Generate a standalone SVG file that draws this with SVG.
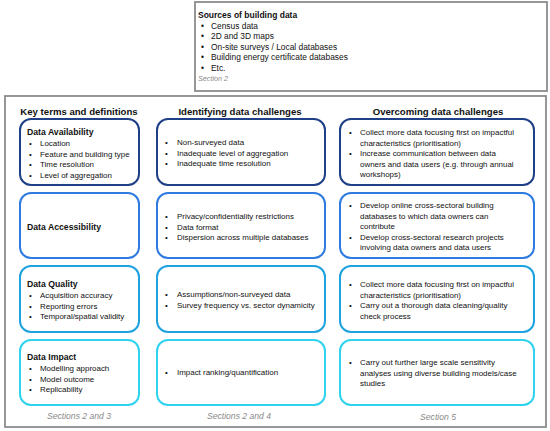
<svg xmlns="http://www.w3.org/2000/svg" width="550" height="431" viewBox="0 0 550 431">
<style>
.frame{fill:#fff;stroke:#8c8c8c;stroke-width:1.8}
.box{fill:#fff;stroke-width:2}
.r1{stroke:#1f3f86}
.r2{stroke:#2f7be0}
.r3{stroke:#1ea2e0}
.r4{stroke:#2fd3ee}
text{font-family:"Liberation Sans",Arial,sans-serif;fill:#111}
.h{font-size:9.6px;font-weight:bold;text-anchor:middle}
.t{font-size:8.7px;font-weight:bold}
.ts{font-size:8.5px;font-weight:bold}
.b{font-size:7.95px}
.bt{font-size:8.4px}
.s{font-size:7.2px;font-style:italic;fill:#8a8a8a}
.sc{font-size:8.6px;font-style:italic;fill:#8a8a8a;text-anchor:middle}
</style>
<rect width="550" height="431" fill="#fff"/>
<g id="sources">
<rect class="frame" x="195" y="2" width="352" height="89"/>
<text class="ts" x="198" y="18">Sources of building data</text>
<g class="bt">
<text x="201" y="28.5">•</text><text x="211" y="28.5">Census data</text>
<text x="201" y="39">•</text><text x="211" y="39">2D and 3D maps</text>
<text x="201" y="49.5">•</text><text x="211" y="49.5">On-site surveys / Local databases</text>
<text x="201" y="60">•</text><text x="211" y="60">Building energy certificate databases</text>
<text x="201" y="70.5">•</text><text x="211" y="70.5">Etc.</text>
</g>
<text class="s" x="198" y="81">Section 2</text>
</g>
<g id="main">
<rect class="frame" x="5" y="96" width="541" height="331"/>
<text class="h" x="79" y="115">Key terms and definitions</text>
<text class="h" x="240" y="115">Identifying data challenges</text>
<text class="h" x="438" y="115">Overcoming data challenges</text>
<text class="sc" x="79" y="419">Sections 2 and 3</text>
<text class="sc" x="239" y="419">Sections 2 and 4</text>
<text class="sc" x="438" y="420">Section 5</text>
</g>
<g id="connectors"></g>
<g id="availability-def">
<rect class="box r1" x="20" y="119" width="119" height="66" rx="11"/>
<text class="t" x="27" y="135">Data Availability</text>
<g class="b">
<text x="29" y="146">•</text><text x="40" y="146">Location</text>
<text x="29" y="156.5">•</text><text x="40" y="156.5">Feature and building type</text>
<text x="29" y="167">•</text><text x="40" y="167">Time resolution</text>
<text x="29" y="177.5">•</text><text x="40" y="177.5">Level of aggregation</text>
</g>
</g>
<g id="availability-challenges">
<rect class="box r1" x="157" y="119" width="168" height="66" rx="11"/>
<g class="b">
<text x="165" y="145">•</text><text x="177" y="145">Non-surveyed data</text>
<text x="165" y="155.5">•</text><text x="177" y="155.5">Inadequate level of aggregation</text>
<text x="165" y="166">•</text><text x="177" y="166">Inadequate time resolution</text>
</g>
</g>
<g id="availability-solutions">
<rect class="box r1" x="340" y="119" width="194" height="66" rx="11"/>
<g class="b">
<text x="349" y="135">•</text><text x="360" y="135">Collect more data focusing first on impactful</text>
<text x="360" y="145.5">characteristics (prioritisation)</text>
<text x="349" y="156">•</text><text x="360" y="156">Increase communication between data</text>
<text x="360" y="166.5">owners and data users (e.g. through annual</text>
<text x="360" y="177">workshops)</text>
</g>
</g>
<g id="accessibility-def">
<rect class="box r2" x="20" y="193" width="119" height="65" rx="11"/>
<text class="t" x="27" y="230">Data Accessibility</text>
</g>
<g id="accessibility-challenges">
<rect class="box r2" x="157" y="193" width="168" height="65" rx="11"/>
<g class="b">
<text x="165" y="219">•</text><text x="177" y="219">Privacy/confidentiality restrictions</text>
<text x="165" y="229.5">•</text><text x="177" y="229.5">Data format</text>
<text x="165" y="240">•</text><text x="177" y="240">Dispersion across multiple databases</text>
</g>
</g>
<g id="accessibility-solutions">
<rect class="box r2" x="340" y="193" width="194" height="65" rx="11"/>
<g class="b">
<text x="349" y="208">•</text><text x="360" y="208">Develop online cross-sectoral building</text>
<text x="360" y="218.5">databases to which data owners can</text>
<text x="360" y="229">contribute</text>
<text x="349" y="239.5">•</text><text x="360" y="239.5">Develop cross-sectoral research projects</text>
<text x="360" y="250">involving data owners and data users</text>
</g>
</g>
<g id="quality-def">
<rect class="box r3" x="20" y="266" width="119" height="66" rx="11"/>
<text class="t" x="27" y="287">Data Quality</text>
<g class="b">
<text x="29" y="298">•</text><text x="40" y="298">Acquisition accuracy</text>
<text x="29" y="308.5">•</text><text x="40" y="308.5">Reporting errors</text>
<text x="29" y="319">•</text><text x="40" y="319">Temporal/spatial validity</text>
</g>
</g>
<g id="quality-challenges">
<rect class="box r3" x="157" y="266" width="168" height="66" rx="11"/>
<g class="b">
<text x="165" y="297">•</text><text x="177" y="297">Assumptions/non-surveyed data</text>
<text x="165" y="307.5">•</text><text x="177" y="307.5">Survey frequency vs. sector dynamicity</text>
</g>
</g>
<g id="quality-solutions">
<rect class="box r3" x="340" y="266" width="194" height="66" rx="11"/>
<g class="b">
<text x="349" y="287">•</text><text x="360" y="287">Collect more data focusing first on impactful</text>
<text x="360" y="297.5">characteristics (prioritisation)</text>
<text x="349" y="308">•</text><text x="360" y="308">Carry out a thorough data cleaning/quality</text>
<text x="360" y="318.5">check process</text>
</g>
</g>
<g id="impact-def">
<rect class="box r4" x="20" y="340" width="119" height="65" rx="11"/>
<text class="t" x="27" y="360">Data Impact</text>
<g class="b">
<text x="29" y="371">•</text><text x="40" y="371">Modelling approach</text>
<text x="29" y="381.5">•</text><text x="40" y="381.5">Model outcome</text>
<text x="29" y="392">•</text><text x="40" y="392">Replicability</text>
</g>
</g>
<g id="impact-challenges">
<rect class="box r4" x="157" y="340" width="168" height="65" rx="11"/>
<g class="b">
<text x="165" y="375">•</text><text x="177" y="375">Impact ranking/quantification</text>
</g>
</g>
<g id="impact-solutions">
<rect class="box r4" x="340" y="340" width="194" height="65" rx="11"/>
<g class="b">
<text x="349" y="365">•</text><text x="360" y="365">Carry out further large scale sensitivity</text>
<text x="360" y="375.5">analyses using diverse building models/case</text>
<text x="360" y="386">studies</text>
</g>
</g>
</svg>
